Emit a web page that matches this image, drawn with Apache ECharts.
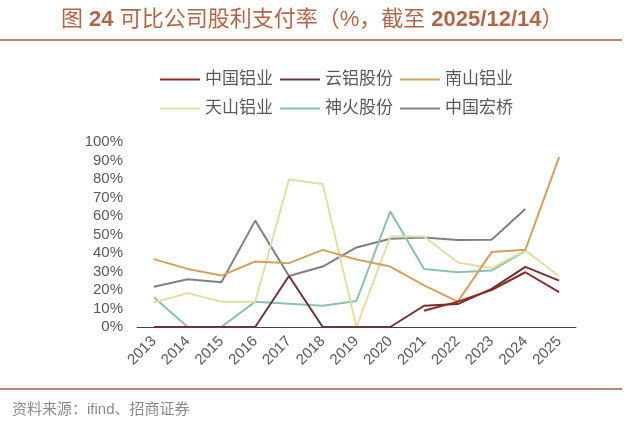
<!DOCTYPE html>
<html>
<head>
<meta charset="utf-8">
<script src="https://cdn.jsdelivr.net/npm/echarts@6/dist/echarts.min.js"></script>
<style>
  html, body { margin: 0; padding: 0; background: #fff; }
  #main { width: 640px; height: 429px; }
</style>
</head>
<body>
<div id="main"></div>
<script>
var years = ['2013', '2014', '2015', '2016', '2017', '2018', '2019', '2020', '2021', '2022', '2023', '2024', '2025'];

// 股利支付率 (%)
var chalco    = [null, null, null, null, null, null, null, null, 8.8, 13.7, 20.0, 29.6, 18.8];   // 中国铝业
var yunlv     = [0, 0, 0, 0, 27.6, 0, 0, 0, 11.5, 12.4, 20.6, 32.5, 25.1];                    // 云铝股份
var nanshan   = [36.7, 31.4, 27.8, 35.4, 34.5, 41.7, 36.5, 32.7, 22.5, 13.7, 40.5, 41.7, 91.8]; // 南山铝业
var tianshan  = [13.2, 18.3, 13.6, 13.6, 79.7, 77.3, 0, 48.9, 48.9, 34.9, 31.8, 41.4, 27.6];   // 天山铝业
var shenhuo   = [16.1, 0, 0, 13.7, 12.6, 11.5, 14.1, 62.5, 31.4, 29.6, 30.5, 41.2, null];     // 神火股份
var hongqiao  = [21.8, 25.8, 24.2, 57.5, 27.6, 32.7, 43.0, 47.7, 48.4, 47.0, 47.2, 63.8, null]; // 中国宏桥

var names  = ['中国铝业', '云铝股份', '南山铝业', '天山铝业', '神火股份', '中国宏桥'];
var colors = ['#8E2A2A', '#6E3434', '#D3A15F', '#E4DEA6', '#8EC0B1', '#808080'];
var values = [chalco, yunlv, nanshan, tianshan, shenhuo, hongqiao];

var FONT = '"Liberation Sans", "Noto Sans CJK SC", sans-serif';
var myChart = echarts.init(document.getElementById('main'));

var series = [];
for (var i = 0; i < names.length; i++) {
  series.push({
    name: names[i],
    type: 'line',
    data: values[i],
    symbol: 'none',
    lineStyle: { width: 2, color: colors[i] },
    itemStyle: { color: colors[i] },
    z: 10 - i
  });
}

function legendRow(top, items) {
  return {
    top: top,
    left: 155,
    data: items,
    icon: 'rect',
    itemWidth: 40,
    itemHeight: 2,
    itemGap: 7,
    textStyle: { fontFamily: FONT, fontSize: 17, color: '#595959' }
  };
}

var option = {
  animation: false,
  color: colors,
  legend: [
    legendRow(66, names.slice(0, 3)),
    legendRow(95, names.slice(3))
  ],
  grid: { left: 137, right: 64, top: 142, bottom: 102 },
  xAxis: {
    type: 'category',
    data: years,
    boundaryGap: true,
    axisLine: { lineStyle: { color: '#404040', width: 1 } },
    axisTick: { inside: true, length: 5, lineStyle: { color: '#404040' } },
    axisLabel: {
      rotate: 45,
      fontFamily: FONT,
      fontSize: 15,
      color: '#595959',
      margin: 12
    }
  },
  yAxis: {
    type: 'value',
    min: 0,
    max: 100,
    interval: 10,
    axisLine: { show: false },
    axisTick: { show: false },
    splitLine: { show: false },
    axisLabel: {
      fontFamily: FONT,
      fontSize: 15,
      color: '#595959',
      margin: 14,
      formatter: '{value}%'
    }
  },
  graphic: [
    {
      type: 'text',
      left: 61,
      top: 9,
      style: {
        text: '图 {b|24} 可比公司股利支付率（%，截至 {b|2025/12/14}）',
        font: '22px ' + FONT,
        fill: '#B0664A',
        rich: {
          b: { fontWeight: 'bold', fontSize: 22, fontFamily: FONT, fill: '#B0664A' }
        }
      }
    },
    {
      type: 'line',
      shape: { x1: 0, y1: 40, x2: 622, y2: 40 },
      style: { stroke: '#B98470', lineWidth: 2 }
    },
    {
      type: 'line',
      shape: { x1: 0, y1: 389, x2: 622, y2: 389 },
      style: { stroke: '#B98470', lineWidth: 2 }
    },
    {
      type: 'text',
      left: 12,
      top: 402,
      style: {
        text: '资料来源：ifind、招商证券',
        font: '15px ' + FONT,
        fill: '#8A8A8A'
      }
    }
  ],
  series: series
};

myChart.setOption(option);
</script>
</body>
</html>
